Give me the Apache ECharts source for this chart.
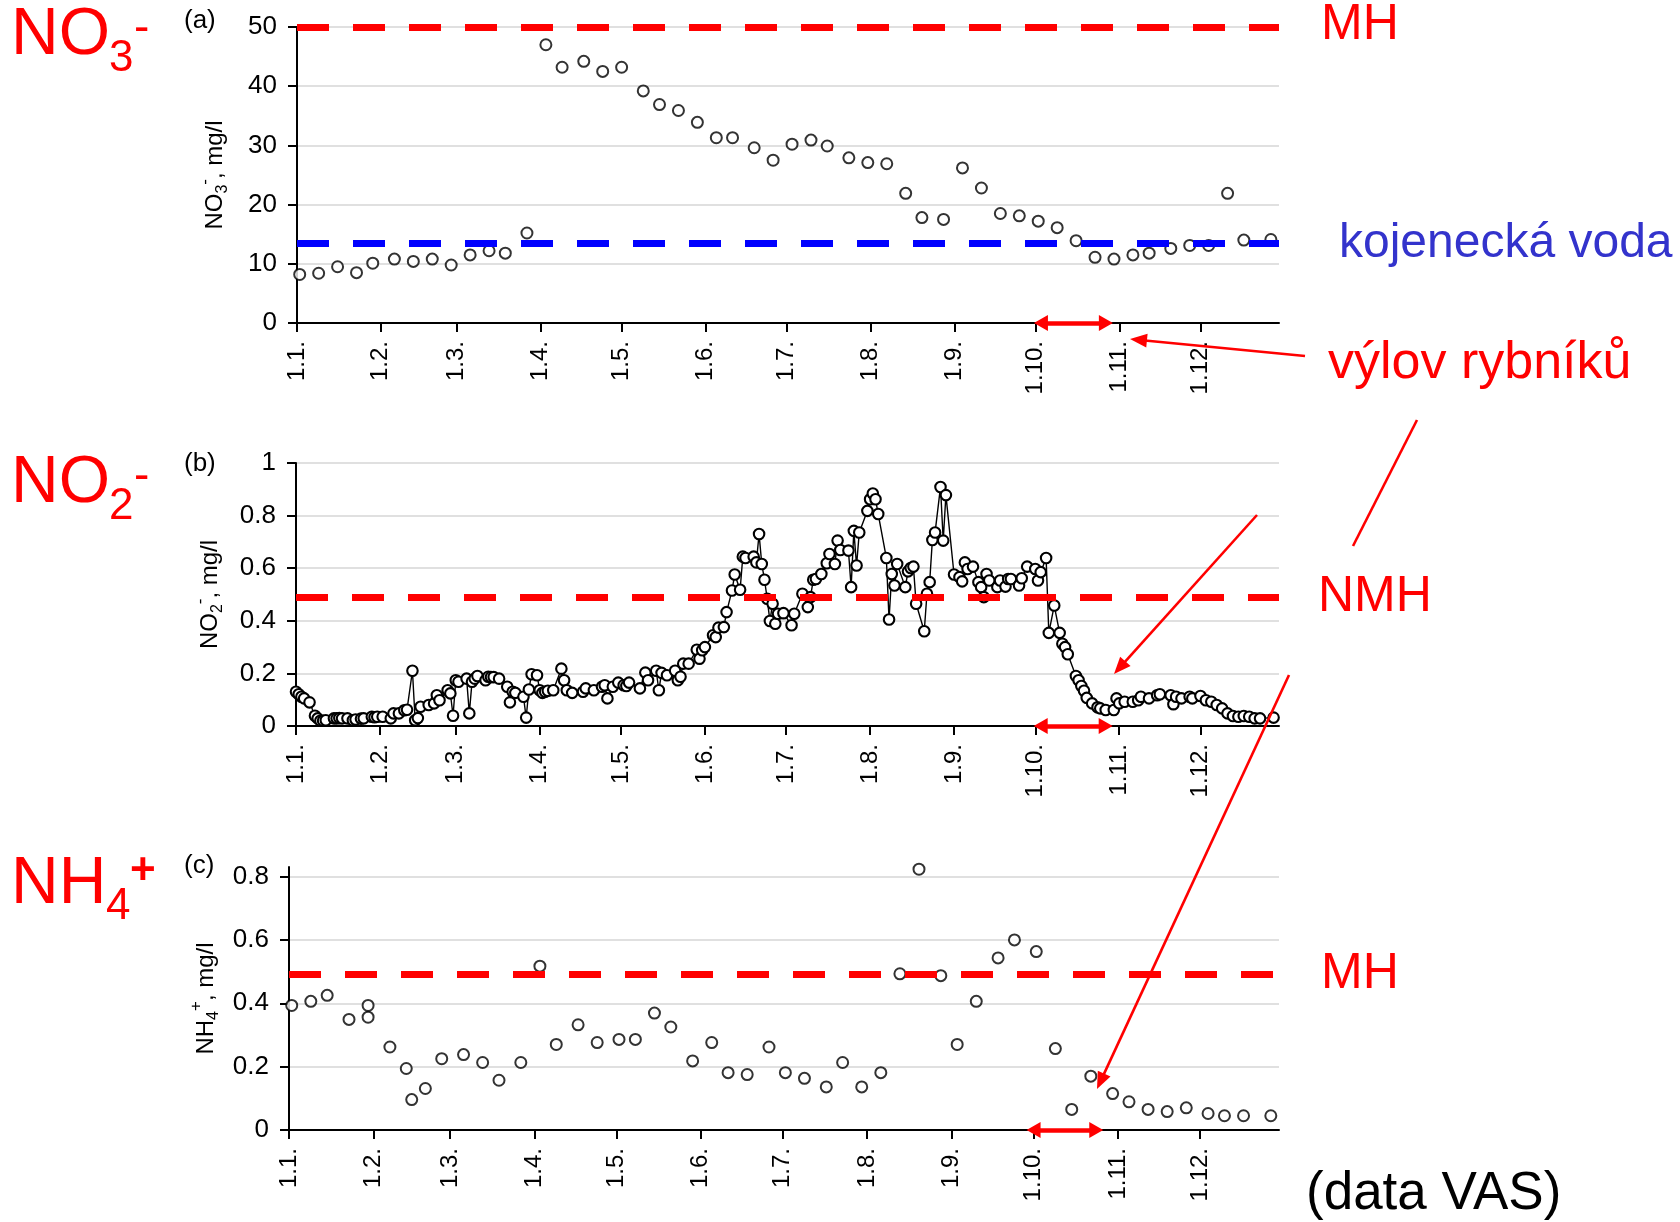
<!DOCTYPE html>
<html>
<head>
<meta charset="utf-8">
<title>NO3, NO2, NH4</title>
<script src="https://cdn.jsdelivr.net/npm/echarts@6/dist/echarts.min.js"></script>
<style>
  html, body { margin: 0; padding: 0; background: #fff; }
  #chart { width: 1680px; height: 1222px; }
</style>
</head>
<body>
<div id="chart"></div>
<script>
// Day of year (1.1. = 0) at which each month starts, and the tick labels shown there
const monthStarts = [0, 31, 59, 90, 120, 151, 181, 212, 243, 273, 304, 334];
const monthLabels = ['1.1.', '1.2.', '1.3.', '1.4.', '1.5.', '1.6.', '1.7.', '1.8.', '1.9.', '1.10.', '1.11.', '1.12.'];
const yearEnd = 363;

// Limit values (mg/l)
const limitNO3 = 50;      // MH
const infantNO3 = 13.5;   // kojenecká voda
const limitNO2 = 0.49;    // NMH
const limitNH4 = 0.49;    // MH

// Pond harvest period (day of year), shown as a double arrow on the time axis
const harvestAB = [275, 299];
const harvestC = [273, 296];

// (a) nitrates, mg/l  [day, value]
const no3Data = [
  [1, 8.2], [8, 8.4], [15, 9.5], [22, 8.5], [28, 10.1], [36, 10.8], [43, 10.4], [50, 10.8],
  [57, 9.8], [64, 11.5], [71, 12.2], [77, 11.8], [85, 15.2], [92, 47.0], [98, 43.2], [106, 44.2],
  [113, 42.5], [120, 43.2], [128, 39.2], [134, 36.9], [141, 35.9], [148, 33.9], [155, 31.3], [161, 31.3],
  [169, 29.6], [176, 27.5], [183, 30.2], [190, 30.9], [196, 29.9], [204, 27.9], [211, 27.1], [218, 26.9],
  [225, 21.9], [231, 17.8], [239, 17.5], [246, 26.2], [253, 22.8], [260, 18.5], [267, 18.1], [274, 17.2],
  [281, 16.1], [288, 13.9], [295, 11.1], [302, 10.8], [309, 11.5], [315, 11.8], [323, 12.6], [330, 13.1],
  [337, 13.1], [344, 21.9], [350, 14.0], [360, 14.1]
];

// (b) nitrites, mg/l  [day, value]
const no2Data = [
  [0, 0.13], [1, 0.121], [2, 0.111], [3, 0.105], [5, 0.09], [7, 0.039], [8, 0.029], [9, 0.02],
  [10, 0.02], [11, 0.022], [14, 0.029], [15, 0.029], [16, 0.03], [17, 0.029], [19, 0.029], [21, 0.022],
  [22, 0.025], [24, 0.028], [25, 0.029], [28, 0.035], [29, 0.033], [30, 0.035], [32, 0.035], [35, 0.029],
  [36, 0.048], [38, 0.048], [40, 0.06], [41, 0.062], [43, 0.21], [44, 0.022], [45, 0.03], [46, 0.073],
  [49, 0.08], [51, 0.086], [52, 0.117], [53, 0.098], [56, 0.136], [57, 0.124], [58, 0.039], [59, 0.174],
  [60, 0.168], [63, 0.18], [64, 0.048], [65, 0.168], [66, 0.18], [67, 0.19], [70, 0.174], [71, 0.187],
  [72, 0.186], [73, 0.186], [75, 0.18], [78, 0.149], [79, 0.09], [80, 0.13], [81, 0.126], [84, 0.111],
  [85, 0.032], [86, 0.139], [87, 0.197], [89, 0.193], [90, 0.136], [91, 0.126], [92, 0.13], [93, 0.134],
  [95, 0.136], [98, 0.218], [99, 0.174], [100, 0.136], [102, 0.126], [106, 0.13], [107, 0.143], [110, 0.136],
  [113, 0.149], [114, 0.155], [115, 0.105], [117, 0.149], [119, 0.165], [121, 0.155], [122, 0.152], [123, 0.165],
  [127, 0.143], [129, 0.203], [130, 0.174], [133, 0.21], [134, 0.136], [135, 0.202], [137, 0.193], [140, 0.21],
  [141, 0.174], [142, 0.187], [143, 0.237], [145, 0.237], [148, 0.29], [149, 0.256], [150, 0.288], [151, 0.3],
  [154, 0.345], [155, 0.338], [156, 0.374], [158, 0.376], [159, 0.433], [161, 0.515], [162, 0.576], [164, 0.518],
  [165, 0.644], [166, 0.639], [169, 0.644], [170, 0.622], [171, 0.73], [172, 0.616], [173, 0.556], [174, 0.484],
  [175, 0.399], [176, 0.465], [177, 0.389], [178, 0.427], [180, 0.429], [183, 0.383], [184, 0.427], [187, 0.503],
  [189, 0.452], [190, 0.49], [191, 0.556], [192, 0.559], [194, 0.578], [196, 0.619], [197, 0.654], [199, 0.616],
  [200, 0.705], [201, 0.669], [204, 0.667], [205, 0.528], [206, 0.742], [207, 0.61], [208, 0.736], [211, 0.818],
  [212, 0.862], [213, 0.884], [214, 0.862], [215, 0.806], [218, 0.639], [219, 0.405], [220, 0.578], [221, 0.534],
  [222, 0.616], [225, 0.528], [226, 0.588], [227, 0.601], [228, 0.606], [229, 0.465], [232, 0.36], [233, 0.503],
  [234, 0.547], [235, 0.707], [236, 0.736], [238, 0.909], [239, 0.705], [240, 0.878], [243, 0.576], [245, 0.566],
  [246, 0.55], [247, 0.622], [248, 0.597], [250, 0.606], [252, 0.547], [253, 0.528], [254, 0.49], [255, 0.578],
  [256, 0.553], [259, 0.528], [260, 0.553], [262, 0.53], [263, 0.559], [264, 0.559], [267, 0.534], [268, 0.562],
  [270, 0.606], [273, 0.597], [274, 0.553], [275, 0.585], [277, 0.639], [278, 0.354], [280, 0.458], [282, 0.354],
  [283, 0.313], [284, 0.3], [285, 0.273], [288, 0.19], [289, 0.174], [290, 0.152], [291, 0.134], [292, 0.107],
  [294, 0.086], [296, 0.071], [297, 0.067], [299, 0.061], [302, 0.061], [303, 0.105], [304, 0.086], [306, 0.092],
  [309, 0.092], [311, 0.098], [312, 0.111], [315, 0.105], [318, 0.117], [319, 0.121], [323, 0.117], [324, 0.083],
  [325, 0.111], [327, 0.105], [330, 0.111], [331, 0.105], [334, 0.114], [336, 0.098], [338, 0.092], [340, 0.08],
  [342, 0.067], [344, 0.048], [346, 0.038], [348, 0.035], [350, 0.038], [352, 0.035], [354, 0.029], [356, 0.029],
  [361, 0.032]
];

// (c) ammonium, mg/l  [day, value]
const nh4Data = [
  [1, 0.393], [8, 0.406], [14, 0.425], [22, 0.349], [29, 0.393], [29, 0.356], [37, 0.262], [43, 0.194],
  [45, 0.096], [50, 0.131], [56, 0.225], [64, 0.238], [71, 0.213], [77, 0.157], [85, 0.213], [92, 0.517],
  [98, 0.27], [106, 0.332], [113, 0.276], [121, 0.286], [127, 0.286], [134, 0.369], [140, 0.325], [148, 0.218],
  [155, 0.276], [161, 0.181], [168, 0.175], [176, 0.262], [182, 0.181], [189, 0.163], [197, 0.136], [203, 0.213],
  [210, 0.136], [217, 0.181], [224, 0.493], [231, 0.823], [239, 0.487], [245, 0.27], [252, 0.406], [260, 0.543],
  [266, 0.6], [274, 0.563], [281, 0.257], [287, 0.065], [294, 0.17], [302, 0.115], [308, 0.089], [315, 0.065],
  [322, 0.058], [329, 0.07], [337, 0.052], [343, 0.045], [350, 0.045], [360, 0.045]
];

const FONT = '"Liberation Sans", Arial, Helvetica, sans-serif';
const RED = '#ff0000';
const BLUE = '#0000ff';

const chart = echarts.init(document.getElementById('chart'), null, { renderer: 'canvas' });

function dayAxis(gridIndex) {
  return {
    type: 'value', gridIndex, min: 0, max: yearEnd,
    axisLine: { show: true, onZero: false, lineStyle: { color: '#000', width: 2 } },
    axisTick: { show: true, inside: false, length: 9, customValues: monthStarts, lineStyle: { color: '#000', width: 2 } },
    axisLabel: {
      customValues: monthStarts, rotate: 90, margin: 18, color: '#000',
      fontFamily: FONT, fontSize: 24,
      formatter: v => monthLabels[monthStarts.indexOf(v)]
    },
    splitLine: { show: false }
  };
}

function nameRich() {
  return {
    t: { fontFamily: FONT, fontSize: 24, color: '#000' },
    s: { fontFamily: FONT, fontSize: 16, color: '#000', verticalAlign: 'bottom', padding: [0, 0, -4, 0] },
    p: { fontFamily: FONT, fontSize: 17, color: '#000', verticalAlign: 'top', padding: [-6, 0, 0, 0] }
  };
}

function valueAxis(gridIndex, max, interval, name, nameGap, ticks) {
  const ax = {
    type: 'value', gridIndex, min: 0, max, interval,
    name, nameLocation: 'middle', nameRotate: 90, nameGap,
    nameTextStyle: { rich: nameRich() },
    axisLine: { show: true, onZero: false, lineStyle: { color: '#000', width: 2 } },
    axisTick: { show: true, inside: false, length: 9, lineStyle: { color: '#000', width: 2 } },
    axisLabel: { margin: 20, color: '#000', fontFamily: FONT, fontSize: 26 },
    splitLine: { show: true, lineStyle: { color: '#d6d6d6', width: 1.5 } }
  };
  if (ticks) {
    ax.axisTick.customValues = ticks;
    ax.axisLabel.customValues = ticks;
  }
  return ax;
}

const circleStyle = { color: '#fff', borderColor: '#000', borderWidth: 2 };

function limitSeries(idx, items) {
  return {
    type: 'line', xAxisIndex: idx, yAxisIndex: idx, data: [], z: 6, silent: true, clip: false,
    markLine: {
      silent: true, symbol: 'none', animation: false, label: { show: false },
      emphasis: { disabled: true },
      data: items.map(([v, c]) => ({ yAxis: v, lineStyle: { color: c, width: 7, type: [32, 24], cap: 'butt' } }))
    }
  };
}

function harvestSeries(idx, range) {
  return {
    type: 'line', xAxisIndex: idx, yAxisIndex: idx, data: [], z: 7, silent: true, clip: false,
    markLine: {
      silent: true, animation: false, label: { show: false },
      emphasis: { disabled: true },
      symbol: ['triangle', 'triangle'], symbolSize: [16, 14],
      lineStyle: { color: RED, width: 4.5, type: 'solid' },
      itemStyle: { color: RED },
      data: [[{ coord: [range[0], 0] }, { coord: [range[1], 0] }]]
    }
  };
}

// Red annotation arrow (line plus filled head)
function arrow(x1, y1, x2, y2, withHead) {
  const dx = x2 - x1, dy = y2 - y1, len = Math.hypot(dx, dy);
  const ux = dx / len, uy = dy / len, hl = 17, hw = 7;
  const bx = x2 - ux * hl, by = y2 - uy * hl;
  const els = [{
    type: 'line', z: 100, silent: true,
    shape: { x1, y1, x2: withHead ? bx + ux * 2 : x2, y2: withHead ? by + uy * 2 : y2 },
    style: { stroke: RED, lineWidth: 2.6 }
  }];
  if (withHead) {
    els.push({
      type: 'polygon', z: 100, silent: true,
      shape: { points: [[x2, y2], [bx - uy * hw, by + ux * hw], [bx + uy * hw, by - ux * hw]] },
      style: { fill: RED }
    });
  }
  return els;
}

function txt(x, y, text, size, color, weight) {
  return {
    type: 'text', x, y, z: 100, silent: true,
    style: {
      text, fill: color, font: (weight || 'normal') + ' ' + size + 'px ' + FONT,
      align: 'left', textAlign: 'left', verticalAlign: 'middle', textVerticalAlign: 'middle'
    }
  };
}

const graphics = [
  // ion labels on the left
  txt(11, 36, 'NO', 66, RED), txt(109, 59, '3', 44, RED), txt(134, 29, '-', 46, RED),
  txt(11, 484, 'NO', 66, RED), txt(109, 507, '2', 44, RED), txt(134, 477, '-', 46, RED),
  txt(11, 885, 'NH', 66, RED), txt(106, 907, '4', 44, RED), txt(130, 872, '+', 44, RED, 'bold'),
  // panel letters
  txt(184, 21, '(a)', 26, '#000'), txt(184, 464, '(b)', 26, '#000'), txt(184, 866, '(c)', 26, '#000'),
  // right-hand labels
  txt(1321, 25, 'MH', 50, RED),
  txt(1339, 244, 'kojenecká voda', 48, '#3333cc'),
  txt(1328, 364, 'výlov rybníků', 52, RED),
  txt(1318, 597, 'NMH', 50, RED),
  txt(1321, 974, 'MH', 50, RED),
  txt(1306, 1194, '(data VAS)', 53, '#000'),
  ...arrow(1305, 356, 1130, 339, true),
  ...arrow(1417, 420, 1353, 546, false),
  ...arrow(1257, 515, 1114, 674, true),
  ...arrow(1289, 675, 1097, 1089, true)
];

const option = {
  animation: false,
  backgroundColor: '#fff',
  textStyle: { fontFamily: FONT },
  grid: [
    { left: 297, top: 27, width: 982, height: 296, outerBoundsMode: 'none' },
    { left: 296, top: 463, width: 983, height: 263, outerBoundsMode: 'none' },
    { left: 289, top: 867, width: 990, height: 263, outerBoundsMode: 'none' }
  ],
  xAxis: [dayAxis(0), dayAxis(1), dayAxis(2)],
  yAxis: [
    valueAxis(0, 50, 10, '{t|NO}{s|3}{p|-}{t|, mg/l}', 70),
    valueAxis(1, 1, 0.2, '{t|NO}{s|2}{p|-}{t|, mg/l}', 74),
    valueAxis(2, 0.83, 0.2, '{t|NH}{s|4}{p|+}{t|, mg/l}', 68, [0, 0.2, 0.4, 0.6, 0.8])
  ],
  series: [
    {
      type: 'scatter', xAxisIndex: 0, yAxisIndex: 0, data: no3Data, clip: false,
      symbol: 'circle', symbolSize: 11, itemStyle: circleStyle, z: 3, silent: true
    },
    limitSeries(0, [[limitNO3, RED], [infantNO3, BLUE]]),
    harvestSeries(0, harvestAB),
    {
      type: 'line', xAxisIndex: 1, yAxisIndex: 1, data: no2Data, clip: false,
      symbol: 'circle', symbolSize: 10.5, showAllSymbol: true, z: 3, silent: true,
      lineStyle: { color: '#000', width: 1.4 },
      itemStyle: { color: '#fff', borderColor: '#000', borderWidth: 2.1 }
    },
    limitSeries(1, [[limitNO2, RED]]),
    harvestSeries(1, harvestAB),
    {
      type: 'scatter', xAxisIndex: 2, yAxisIndex: 2, data: nh4Data, clip: false,
      symbol: 'circle', symbolSize: 11, itemStyle: circleStyle, z: 3, silent: true
    },
    limitSeries(2, [[limitNH4, RED]]),
    harvestSeries(2, harvestC)
  ],
  graphic: graphics
};

chart.setOption(option);
</script>
</body>
</html>
